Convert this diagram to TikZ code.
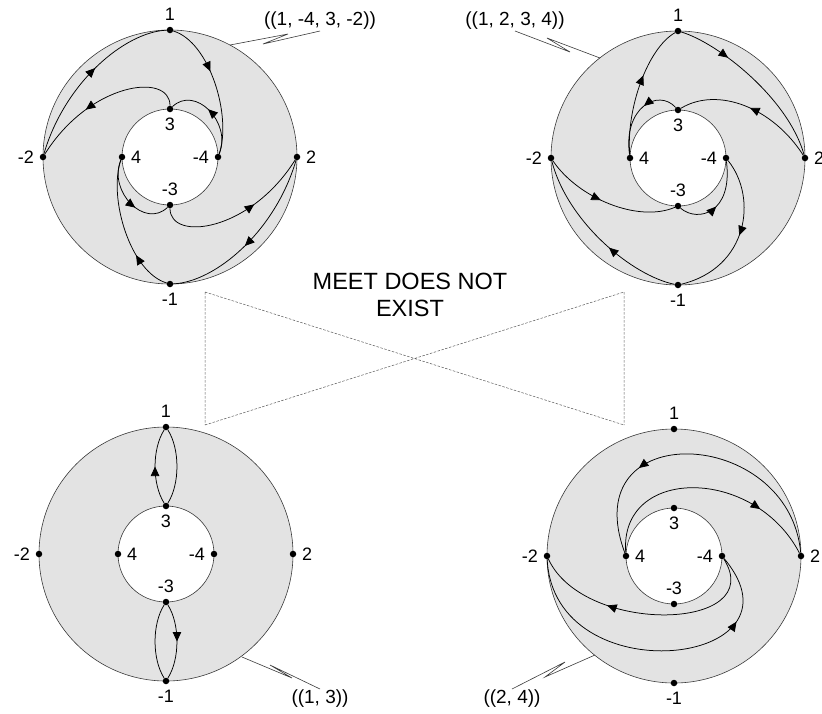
\documentclass[tikz,border=0pt]{standalone}
\usepackage{fontspec}
\setmainfont{Liberation Sans}
\usetikzlibrary{arrows.meta,decorations.markings,positioning}
\definecolor{ringgray}{HTML}{E3E3E3}
\definecolor{edgegray}{HTML}{3A3A3A}
\definecolor{boxgray}{HTML}{5A5A5A}
\begin{document}
\begin{tikzpicture}[x=1pt,y=-1pt,label distance=4.5pt,
 dot/.style={circle,fill=black,inner sep=0pt,minimum size=6.5pt},
 num/.style={font=\fontsize{18}{21}\selectfont,inner sep=1pt},
 note/.style={font=\fontsize{19}{22}\selectfont,inner sep=1pt},
 flow/.style={line width=.75pt},
 tipat/.style={postaction={decorate},decoration={markings,mark=at position #1 with {\arrow{Triangle[length=9.5pt,width=8.5pt]}}}},
 callout/.style={draw=edgegray,line width=.6pt},
 xbox/.style={draw=boxgray,line width=.5pt,dash pattern=on 2.5pt off 1.5pt}]
\useasboundingbox (0,0) rectangle (822,713);
% the four annuli with their eight marked points
\foreach \p/\cx/\cy in {a/170/157,b/678/158,c/166/554,d/674/556}{
\begin{scope}[shift={(\cx,\cy)}]
\fill[ringgray,even odd rule] (0,0) circle[radius=127pt] (0,0) circle[radius=48pt];
\draw[edgegray,line width=.6pt] (0,0) circle[radius=127pt] (0,0) circle[radius=48pt];
\node[dot,label={[num]above:1}] (\p1) at (0,-127) {};\node[dot,label={[num]right:2}] (\p2) at (127,0) {};
\node[dot,label={[num]below:-1}] (\p-1) at (0,127) {};\node[dot,label={[num]left:-2}] (\p-2) at (-127,0) {};
\node[dot,label={[num]below:3}] (\p3) at (0,-48) {};\node[dot,label={[num]right:4}] (\p4) at (-48,0) {};
\node[dot,label={[num]above:-3}] (\p-3) at (0,48) {};\node[dot,label={[num]left:-4}] (\p-4) at (48,0) {};
\end{scope}}
% ((1, -4, 3, -2))
\begin{scope}[shift={(170,157)}]
\draw[flow,tipat=.4] (a1) .. controls (40,-115) and (62,-40) .. (a-4);\draw[flow,tipat=.55] (a-4) .. controls (62,-35) and (25,-72) .. (a3);
\draw[flow,tipat=.62] (a3) .. controls (0,-85) and (-80,-75) .. (a-2);\draw[flow,tipat=.55] (a-2) .. controls (-105,-75) and (-45,-125) .. (a1);
\draw[flow,tipat=.3] (a-1) .. controls (-40,115) and (-62,40) .. (a4);\draw[flow,tipat=.6] (a4) .. controls (-62,35) and (-25,72) .. (a-3);
\draw[flow,tipat=.62] (a-3) .. controls (0,85) and (80,75) .. (a2);\draw[flow,tipat=.55] (a2) .. controls (105,75) and (45,125) .. (a-1);
\end{scope}
% ((1, 2, 3, 4))
\begin{scope}[shift={(678,158)}]
\draw[flow,tipat=.3] (b1) .. controls (40,-115) and (110,-60) .. (b2);\draw[flow,tipat=.5] (b2) .. controls (95,-50) and (40,-72) .. (b3);
\draw[flow,tipat=.4] (b3) .. controls (-20,-70) and (-55,-50) .. (b4);\draw[flow,tipat=.6] (b4) .. controls (-52,-50) and (-30,-110) .. (b1);
\draw[flow,tipat=.42] (b-1) .. controls (-45,118) and (-110,65) .. (b-2);\draw[flow,tipat=.45] (b-2) .. controls (-100,40) and (-40,65) .. (b-3);
\draw[flow,tipat=.45] (b-3) .. controls (20,65) and (55,55) .. (b-4);\draw[flow,tipat=.5] (b-4) .. controls (80,40) and (70,110) .. (b-1);
\end{scope}
% ((1, 3))
\begin{scope}[shift={(166,554)}]
\draw[flow,tipat=.5] (c3) .. controls (-14,-70) and (-14,-105) .. (c1);\draw[flow] (c1) .. controls (14,-105) and (14,-70) .. (c3);
\draw[flow,tipat=.5] (c-3) .. controls (14,70) and (14,105) .. (c-1);\draw[flow] (c-1) .. controls (-14,105) and (-14,70) .. (c-3);
\end{scope}
% ((2, 4))
\begin{scope}[shift={(674,556)}]
\draw[flow,tipat=.7] (d2) .. controls (115,-130) and (-100,-140) .. (d4);\draw[flow,tipat=.75] (d4) .. controls (-55,-90) and (80,-90) .. (d2);
\draw[flow,tipat=.78] (d-2) .. controls (-120,140) and (140,110) .. (d-4);\draw[flow,tipat=.68] (d-4) .. controls (95,75) and (-90,80) .. (d-2);
\end{scope}
% callouts
\coordinate (ae) at (230,45);\node[note,anchor=south] (an) at (320,31) {((1, -4, 3, -2))};
\draw[callout] (ae) -- (288,34) -- (263,44) -- (an.south);
\coordinate (be) at (600,58);\node[note,anchor=south] (bn) at (515,31) {((1, 2, 3, 4))};
\draw[callout] (be) -- (547,38) -- (570,52) -- (bn.south);
\coordinate (ce) at (242,657);\node[note,anchor=north] (cn) at (320,689) {((1, 3))};
\draw[callout] (ce) -- (292,678) -- (270,665) -- (cn.north);
\coordinate (de) at (595,655);\node[note,anchor=north] (dn) at (512,689) {((2, 4))};
\draw[callout] (de) -- (545,677) -- (565,662) -- (dn.north);
% no meet
\coordinate (q1) at (205,292);\coordinate (q2) at (624,292);\coordinate (q3) at (624,425);\coordinate (q4) at (205,425);
\draw[xbox] (q1) -- (q3) (q4) -- (q2) (q1) -- (q4) (q2) -- (q3);
\node[font=\fontsize{23.5}{27}\selectfont,align=center] (meet) at (410,295) {MEET DOES NOT\\EXIST};
\end{tikzpicture}
\end{document}
